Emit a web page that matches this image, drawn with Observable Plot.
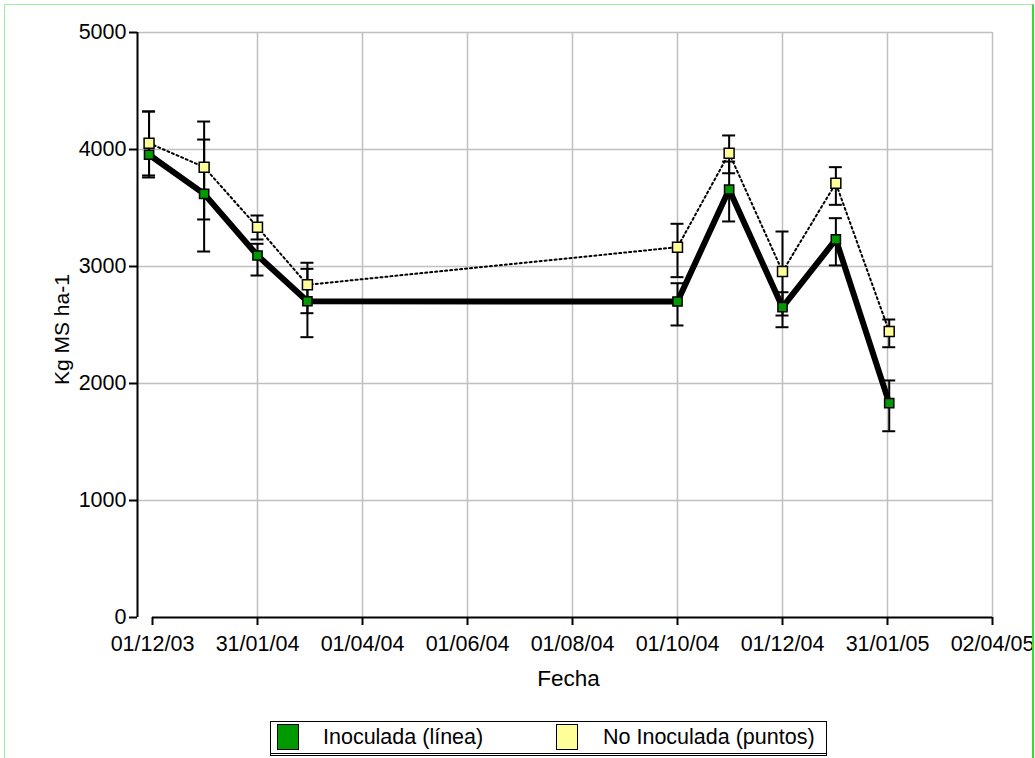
<!DOCTYPE html>
<html><head><meta charset="utf-8">
<script src="https://cdn.jsdelivr.net/npm/d3@7"></script>
<script src="https://cdn.jsdelivr.net/npm/@observablehq/plot@0.6"></script>
<style>
body{margin:0;background:#fff;font-family:"Liberation Sans",Arial,sans-serif;}
#wrap{position:relative;width:1035px;height:758px;overflow:hidden;}
#chart{position:absolute;left:0;top:0;}
#frame{position:absolute;left:4px;top:4px;width:1027px;height:800px;border-top:1.5px solid #9ef09e;border-left:1.5px solid #9ef09e;border-right:2px solid #2fe02f;}
#legend{position:absolute;left:270px;top:721px;width:557px;height:35px;border:1.5px solid #000;border-bottom:3px double #000;box-sizing:border-box;font-size:21.5px;}
#legend .sw{position:absolute;top:2px;width:22px;height:26px;border:1.5px solid #000;box-sizing:border-box;}
#legend .tx{position:absolute;top:3px;line-height:24px;white-space:nowrap;}
</style></head><body>
<div id="wrap">
<div id="chart"></div>
<div id="frame"></div>
<div id="legend">
  <span class="sw" style="left:6px;background:#009900"></span><span class="tx" id="l1" style="left:52px"></span>
  <span class="sw" style="left:285px;background:#ffff99"></span><span class="tx" id="l2" style="left:332px"></span>
</div>
</div>
<script>
const seriesNames = ["Inoculada (línea)", "No Inoculada (puntos)"];
const dates = ["2003-11-29","2003-12-31","2004-01-31","2004-02-29","2004-10-01","2004-10-31","2004-12-01","2005-01-01","2005-02-01"];
const inoculada     = [3955,3621,3094,2703,2701,3658,2652,3231,1832];
const inoculadaLow  = [3761,3128,2923,2396,2496,3385,2481,3009,1592];
const inoculadaHigh = [4325,4085,3194,2980,2857,3897,2780,3413,2026];
const noInoculada     = [4054,3849,3336,2844,3165,3968,2957,3712,2444];
const noInoculadaLow  = [3778,3402,3231,2601,2909,3797,2581,3527,2310];
const noInoculadaHigh = [4325,4239,3436,3032,3365,4120,3299,3849,2547];
const xTicks = ["2003-12-01","2004-01-31","2004-04-01","2004-06-01","2004-08-01","2004-10-01","2004-12-01","2005-01-31","2005-04-02"];
const yTicks = [0,1000,2000,3000,4000,5000];
const xLabel = "Fecha";
const yLabel = "Kg MS ha-1";

document.getElementById("l1").textContent = seriesNames[0];
document.getElementById("l2").textContent = seriesNames[1];

const parse = d3.utcParse("%Y-%m-%d");
const rows = dates.map((d,i)=>({
  date: parse(d),
  ino: inoculada[i], inoLo: inoculadaLow[i], inoHi: inoculadaHigh[i],
  no: noInoculada[i], noLo: noInoculadaLow[i], noHi: noInoculadaHigh[i]
}));
const tickDates = xTicks.map(parse);
const x0 = tickDates[0], x1 = tickDates[tickDates.length-1];
const H = 705;
const capInset = -6.5;

const plot = Plot.plot({
  width: 1035, height: H,
  marginLeft: 152, marginRight: 43, marginTop: 32, marginBottom: H - 617,
  style: {fontFamily: "'Liberation Sans', Arial, sans-serif", fontSize: "21.5px", background: "transparent", color: "#000", overflow: "visible"},
  x: {type: "utc", domain: [x0, x1]},
  y: {domain: [0, 5000]},
  marks: [
    Plot.ruleX(tickDates.slice(1), {stroke: "#c0c0c0", strokeWidth: 1.5}),
    Plot.ruleY(yTicks.slice(1), {stroke: "#c0c0c0", strokeWidth: 1.5, insetLeft: -15}),
    Plot.ruleX([x0], {y1: 0, y2: 5000, dx: -15, stroke: "#000", strokeWidth: 2}),
    Plot.ruleY([0], {x1: x0, x2: x1, stroke: "#000", strokeWidth: 2}),
    Plot.axisY({ticks: yTicks, tickSize: 8, dx: -15, tickPadding: 3, label: null, tickFormat: d => String(d), strokeWidth: 2, fontSize: 21.5}),
    Plot.axisX({ticks: tickDates, tickSize: 8, tickPadding: 10, label: null, tickFormat: d3.utcFormat("%d/%m/%y"), strokeWidth: 2, fontSize: 21.5}),
    Plot.text([xLabel], {frameAnchor: "bottom", dy: 61, dx: -4, lineAnchor: "middle", fontSize: 22.5}),
    Plot.text([yLabel], {frameAnchor: "left", rotate: -90, dx: -90, dy: 60, lineAnchor: "middle", fontSize: 21}),
    Plot.line(rows, {x: "date", y: "no", stroke: "#000", strokeWidth: 2, strokeDasharray: "2,3"}),
    Plot.line(rows, {x: "date", y: "ino", stroke: "#000", strokeWidth: 6, strokeLinejoin: "miter"}),
    Plot.ruleX(rows, {x: "date", y1: "noLo", y2: "noHi", stroke: "#000", strokeWidth: 2}),
    Plot.ruleX(rows, {x: "date", y1: "inoLo", y2: "inoHi", stroke: "#000", strokeWidth: 2}),
    Plot.ruleY(rows, {y: "noLo", x1: "date", x2: "date", insetLeft: capInset, insetRight: capInset, stroke: "#000", strokeWidth: 2}),
    Plot.ruleY(rows, {y: "noHi", x1: "date", x2: "date", insetLeft: capInset, insetRight: capInset, stroke: "#000", strokeWidth: 2}),
    Plot.ruleY(rows, {y: "inoLo", x1: "date", x2: "date", insetLeft: capInset, insetRight: capInset, stroke: "#000", strokeWidth: 2}),
    Plot.ruleY(rows, {y: "inoHi", x1: "date", x2: "date", insetLeft: capInset, insetRight: capInset, stroke: "#000", strokeWidth: 2}),
    Plot.dot(rows, {x: "date", y: "ino", symbol: "square", r: 5.2, fill: "#009900", stroke: "#000", strokeWidth: 1.5}),
    Plot.dot(rows, {x: "date", y: "no", symbol: "square", r: 5.6, fill: "#ffff99", stroke: "#000", strokeWidth: 1.5})
  ]
});
document.getElementById("chart").appendChild(plot);
</script>
</body></html>
